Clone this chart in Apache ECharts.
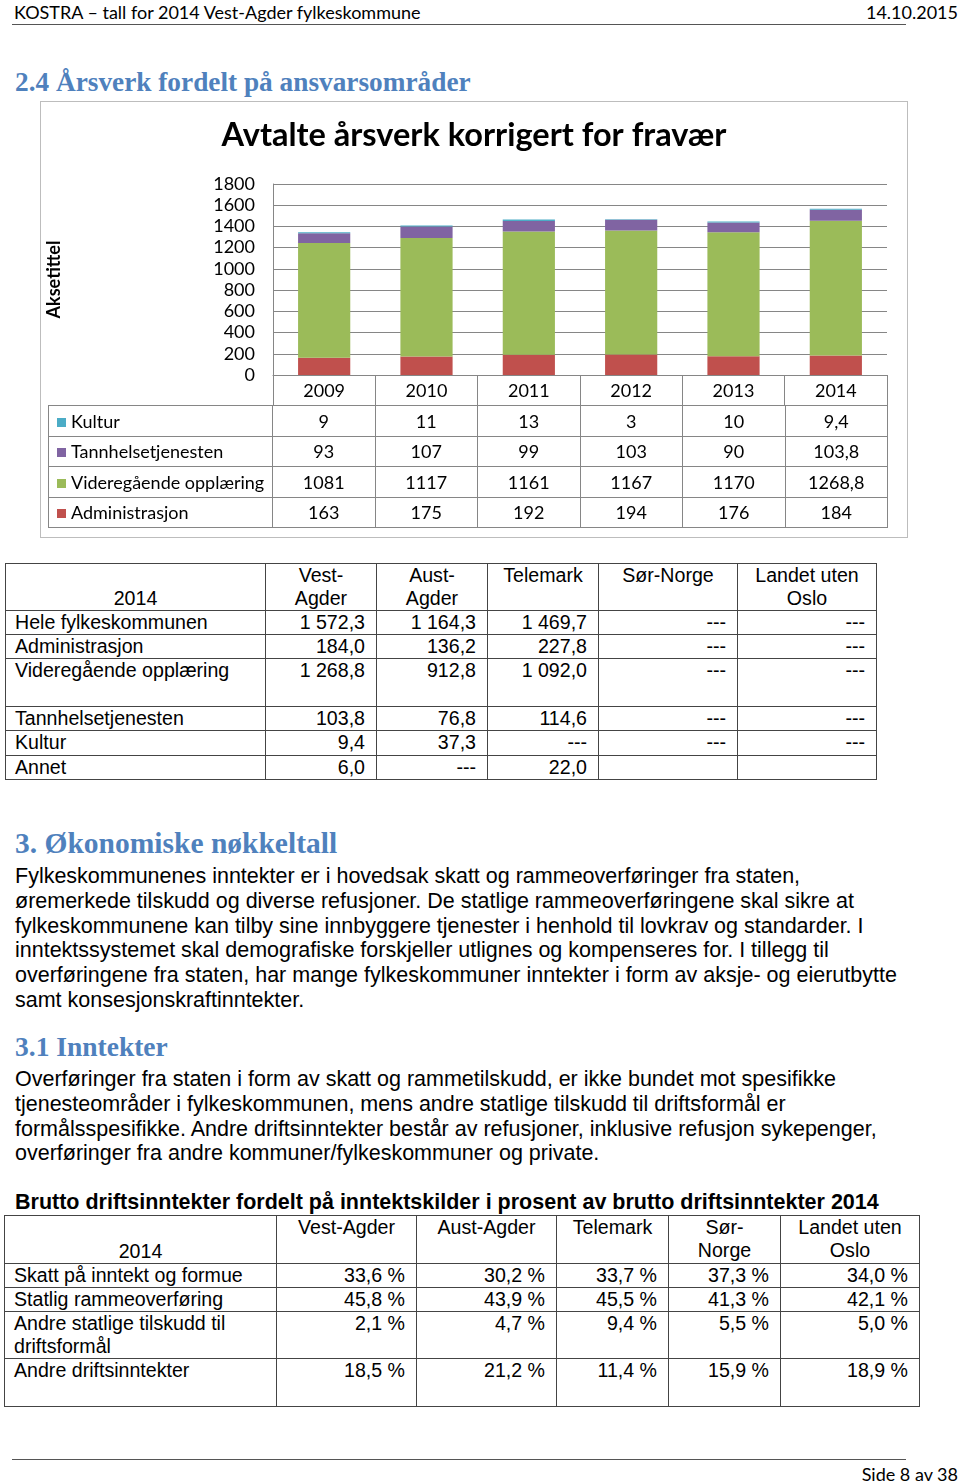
<!DOCTYPE html>
<html><head><meta charset="utf-8">
<script src="https://cdn.jsdelivr.net/npm/echarts@6/dist/echarts.min.js"></script>
<style>
html,body{margin:0;padding:0;background:#fff;}
#page{position:relative;width:960px;height:1483px;overflow:hidden;font-family:"Liberation Sans",Arial,sans-serif;color:#000;}
.abs{position:absolute;white-space:nowrap;}
.cal{font-family:Lato,"Open Sans",sans-serif;}
.head{font-family:"Liberation Serif",serif;font-weight:bold;color:#4F81BD;}
table{border-collapse:collapse;position:absolute;table-layout:fixed;}
td{padding:0;overflow:hidden;white-space:nowrap;}
#t2 td,#t3 td{border:1px solid #444;font-size:19.6px;line-height:23px;vertical-align:top;}
#t2 td.r,#t3 td.r{text-align:right;padding-right:11px;}
#t2 td.l,#t3 td.l{text-align:left;padding-left:9px;}
#t2 td.h,#t3 td.h{text-align:center;}
#dt td{border:1px solid #868686;font-family:Lato,sans-serif;font-size:18px;text-align:center;vertical-align:middle;}
#dt td.lg{text-align:left;padding-left:8px;}
.sq{display:inline-block;width:9px;height:9px;margin-right:5px;vertical-align:1px;}
#chart{position:absolute;left:40px;top:101px;width:866px;height:435px;border:1px solid #bdbdbd;}
</style></head>
<body><div id="page">
<div class="abs cal" style="left:14px;top:0px;font-size:18px;line-height:24px;">KOSTRA – tall for 2014 Vest-Agder fylkeskommune</div>
<div class="abs cal" style="right:2px;top:0px;font-size:18px;line-height:24px;">14.10.2015</div>
<div class="abs" style="left:12px;top:24px;width:894px;height:1px;background:#555;"></div>
<div class="abs head" style="left:15px;top:66px;font-size:27.3px;line-height:32px;">2.4 Årsverk fordelt på ansvarsområder</div>
<div id="chart"></div>
<table id="dt" style="left:48px;top:405px;width:839px;"></table>
<table id="t2" style="left:5px;top:563px;width:872px;"></table>
<div class="abs head" style="left:15px;top:825px;font-size:29.5px;line-height:36px;">3. Økonomiske nøkkeltall</div>
<div class="abs" id="p1" style="left:15px;top:864px;font-size:21.5px;line-height:24.8px;"></div>
<div class="abs head" style="left:15px;top:1031px;font-size:27.5px;line-height:32px;">3.1 Inntekter</div>
<div class="abs" id="p2" style="left:15px;top:1067px;font-size:21.5px;line-height:24.8px;"></div>
<div class="abs" style="left:15px;top:1190px;font-size:21.5px;line-height:25px;font-weight:bold;">Brutto driftsinntekter fordelt på inntektskilder i prosent av brutto driftsinntekter 2014</div>
<table id="t3" style="left:4px;top:1215px;width:915px;"></table>
<div class="abs" style="left:12px;top:1459px;width:894px;height:1px;background:#555;"></div>
<div class="abs cal" style="right:2px;top:1462px;font-size:18px;line-height:24px;">Side 8 av 38</div>
</div>
<script>
// ---- Chart data ----
const years = ['2009','2010','2011','2012','2013','2014'];
const administrasjon = [163, 175, 192, 194, 176, 184];
const videregaende = [1081, 1117, 1161, 1167, 1170, 1268.8];
const tannhelse = [93, 107, 99, 103, 90, 103.8];
const kultur = [9, 11, 13, 3, 10, 9.4];
const seriesNames = ['Administrasjon', 'Videregående opplæring', 'Tannhelsetjenesten', 'Kultur'];
const seriesColors = ['#C0504D', '#9BBB59', '#8064A2', '#4BACC6'];
const chartTitle = 'Avtalte årsverk korrigert for fravær';
const axisTitle = 'Aksetittel';

// ---- Table 2 data ----
const t2Header = ['2014', 'Vest-<br>Agder', 'Aust-<br>Agder', 'Telemark', 'Sør-Norge', 'Landet uten<br>Oslo'];
const t2Rows = ['Hele fylkeskommunen', 'Administrasjon', 'Videregående opplæring', 'Tannhelsetjenesten', 'Kultur', 'Annet'];
const t2VestAgder = ['1 572,3', '184,0', '1 268,8', '103,8', '9,4', '6,0'];
const t2AustAgder = ['1 164,3', '136,2', '912,8', '76,8', '37,3', '---'];
const t2Telemark = ['1 469,7', '227,8', '1 092,0', '114,6', '---', '22,0'];
const t2SorNorge = ['---', '---', '---', '---', '---', ''];
const t2Landet = ['---', '---', '---', '---', '---', ''];

// ---- Table 3 data ----
const t3Header = ['2014', 'Vest-Agder', 'Aust-Agder', 'Telemark', 'Sør-<br>Norge', 'Landet uten<br>Oslo'];
const t3Rows = ['Skatt på inntekt og formue', 'Statlig rammeoverføring', 'Andre statlige tilskudd til<br>driftsformål', 'Andre driftsinntekter'];
const t3VestAgder = ['33,6 %', '45,8 %', '2,1 %', '18,5 %'];
const t3AustAgder = ['30,2 %', '43,9 %', '4,7 %', '21,2 %'];
const t3Telemark = ['33,7 %', '45,5 %', '9,4 %', '11,4 %'];
const t3SorNorge = ['37,3 %', '41,3 %', '5,5 %', '15,9 %'];
const t3Landet = ['34,0 %', '42,1 %', '5,0 %', '18,9 %'];

// ---- Text ----
const para1 = [
 'Fylkeskommunenes inntekter er i hovedsak skatt og rammeoverføringer fra staten,',
 'øremerkede tilskudd og diverse refusjoner. De statlige rammeoverføringene skal sikre at',
 'fylkeskommunene kan tilby sine innbyggere tjenester i henhold til lovkrav og standarder. I',
 'inntektssystemet skal demografiske forskjeller utlignes og kompenseres for. I tillegg til',
 'overføringene fra staten, har mange fylkeskommuner inntekter i form av aksje- og eierutbytte',
 'samt konsesjonskraftinntekter.'];
const para2 = [
 'Overføringer fra staten i form av skatt og rammetilskudd, er ikke bundet mot spesifikke',
 'tjenesteområder i fylkeskommunen, mens andre statlige tilskudd til driftsformål er',
 'formålsspesifikke. Andre driftsinntekter består av refusjoner, inklusive refusjon sykepenger,',
 'overføringer fra andre kommuner/fylkeskommuner og private.'];
document.getElementById('p1').innerHTML = para1.join('<br>');
document.getElementById('p2').innerHTML = para2.join('<br>');

// ---- Chart ----
const chart = echarts.init(document.getElementById('chart'), null, {renderer: 'canvas'});
const seriesData = [administrasjon, videregaende, tannhelse, kultur];
const grey = '#868686';
chart.setOption({
  animation: false,
  textStyle: {fontFamily: 'Lato'},
  title: {text: chartTitle, left: 'center', top: 12,
    textStyle: {fontFamily: 'Lato', fontWeight: 'bold', fontSize: 32.5, color: '#000'}},
  grid: {left: 232, top: 82, width: 614, height: 191, outerBoundsMode: 'none', containLabel: false},
  xAxis: {type: 'category', data: years,
    axisLine: {show: true, lineStyle: {color: grey}},
    axisTick: {show: true, length: 31, alignWithLabel: false, lineStyle: {color: grey}},
    axisLabel: {fontSize: 18, color: '#000', margin: 7, fontFamily: 'Lato'}},
  yAxis: {type: 'value', min: 0, max: 1800, interval: 200,
    name: axisTitle, nameLocation: 'middle', nameRotate: 90, nameGap: 210,
    nameTextStyle: {fontSize: 18, fontWeight: 'bold', color: '#000', fontFamily: 'Lato'},
    axisLine: {show: true, lineStyle: {color: grey}},
    axisTick: {show: false},
    splitLine: {lineStyle: {color: grey}},
    axisLabel: {fontSize: 18, color: '#000', margin: 18, fontFamily: 'Lato', formatter: v => String(v)}},
  series: seriesNames.map((n, i) => ({
    name: n, type: 'bar', stack: 'a', data: seriesData[i], barWidth: '51%',
    itemStyle: {color: seriesColors[i]}
  }))
});

// ---- Data table under the chart (rows in legend order top: Kultur..Administrasjon) ----
const fmt = v => String(v).replace('.', ',');
let dt = '<colgroup><col style="width:224px">' + years.map(() => '<col style="width:102.5px">').join('') + '</colgroup>';
for (let i = seriesNames.length - 1; i >= 0; i--) {
  dt += '<tr style="height:30.5px"><td class="lg"><span class="sq" style="background:' + seriesColors[i] + '"></span>' + seriesNames[i] + '</td>' +
    seriesData[i].map(v => '<td>' + fmt(v) + '</td>').join('') + '</tr>';
}
document.getElementById('dt').innerHTML = dt;

// ---- Table 2 ----
const t2Cols = [t2VestAgder, t2AustAgder, t2Telemark, t2SorNorge, t2Landet];
const t2W = [260, 111, 111, 111, 139, 139];
const t2H = [24, 24, 48, 24, 25, 24];
let h2 = '<colgroup>' + t2W.map(w => '<col style="width:' + w + 'px">').join('') + '</colgroup>';
h2 += '<tr style="height:47px">' + t2Header.map((h, i) => i === 0 ?
  '<td class="h" style="vertical-align:bottom">' + h + '</td>' : '<td class="h">' + h + '</td>').join('') + '</tr>';
t2Rows.forEach((r, j) => {
  h2 += '<tr style="height:' + t2H[j] + 'px"><td class="l">' + r + '</td>' + t2Cols.map(c => '<td class="r">' + c[j] + '</td>').join('') + '</tr>';
});
document.getElementById('t2').innerHTML = h2;

// ---- Table 3 ----
const t3Cols = [t3VestAgder, t3AustAgder, t3Telemark, t3SorNorge, t3Landet];
const t3W = [272, 140, 140, 112, 112, 139];
const t3H = [24, 24, 47, 48];
let h3 = '<colgroup>' + t3W.map(w => '<col style="width:' + w + 'px">').join('') + '</colgroup>';
h3 += '<tr style="height:48px">' + t3Header.map((h, i) => i === 0 ?
  '<td class="h" style="vertical-align:bottom">' + h + '</td>' : '<td class="h">' + h + '</td>').join('') + '</tr>';
t3Rows.forEach((r, j) => {
  h3 += '<tr style="height:' + t3H[j] + 'px"><td class="l">' + r + '</td>' + t3Cols.map(c => '<td class="r">' + c[j] + '</td>').join('') + '</tr>';
});
document.getElementById('t3').innerHTML = h3;
</script>
</body></html>
